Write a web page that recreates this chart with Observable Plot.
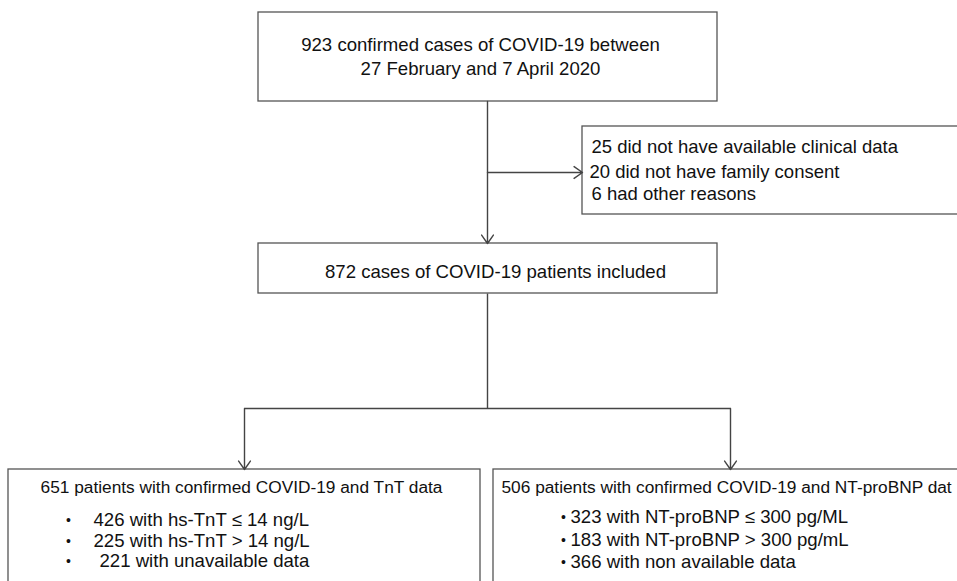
<!DOCTYPE html>
<html>
<head>
<meta charset="utf-8">
<script src="https://cdn.jsdelivr.net/npm/d3@7"></script>
<script src="https://cdn.jsdelivr.net/npm/@observablehq/plot@0.6"></script>
<style>
  html, body { margin: 0; padding: 0; background: #fff; overflow: hidden; }
  #chart svg { display: block; }
</style>
</head>
<body>
<div id="chart"></div>
<script>
const screenedCount = 923;
const screenedPeriod = ["27 February", "7 April 2020"];
const excludedCounts = [25, 20, 6];
const excludedReasons = ["did not have available clinical data", "did not have family consent", "had other reasons"];
const includedCount = 872;
const tntTotal = 651;
const tntCounts = [426, 225, 221];
const tntLabels = ["with hs-TnT \u2264 14 ng/L", "with hs-TnT > 14 ng/L", "with unavailable data"];
const bnpTotal = 506;
const bnpCounts = [323, 183, 366];
const bnpLabels = ["with NT-proBNP \u2264 300 pg/ML", "with NT-proBNP > 300 pg/mL", "with non available data"];

// ---- Layout (pixel frame of the 957 x 581 drawing) ----
const W = 957, H = 581;
const stroke = "#444";
const font = "'Liberation Sans', Arial, Helvetica, sans-serif";

const boxes = [
  {x1: 258, x2: 717, y1: 12, y2: 101},   // screened
  {x1: 582, x2: 990, y1: 126, y2: 214},  // excluded
  {x1: 258, x2: 717, y1: 243, y2: 293},  // included
  {x1: 8, x2: 480, y1: 469, y2: 620},    // TnT
  {x1: 493, x2: 990, y1: 469, y2: 620}   // NT-proBNP
];
const spineX = 487, leftX = 244, rightX = 730, splitY = 408;
const lines = [
  {x1: spineX, y1: 293, x2: spineX, y2: splitY},
  {x1: leftX, y1: splitY, x2: rightX, y2: splitY}
];
const arrows = [
  {x1: spineX, y1: 101, x2: spineX, y2: 243},
  {x1: spineX, y1: 172, x2: 582, y2: 172},
  {x1: leftX, y1: splitY, x2: leftX, y2: 469},
  {x1: rightX, y1: splitY, x2: rightX, y2: 469}
];

const centered = [
  {x: 480, y: 45, t: `${screenedCount} confirmed cases of COVID-19 between`, s: 18.6},
  {x: 480, y: 69, t: `${screenedPeriod[0]} and ${screenedPeriod[1]}`, s: 18.6},
  {x: 495, y: 272, t: `${includedCount} cases of COVID-19 patients included`, s: 18.6},
  {x: 241, y: 487, t: `${tntTotal} patients with confirmed COVID-19 and TnT data`, s: 17.3}
];
const exclY = [147, 172, 194];
const exclX = [591, 589, 591];
const leftTexts = [
  ...excludedCounts.map((c, i) => ({x: exclX[i], y: exclY[i], t: `${c} ${excludedReasons[i]}`, s: 18.5})),
  {x: 501, y: 487, t: `${bnpTotal} patients with confirmed COVID-19 and NT-proBNP dat`, s: 17.3}
];
const tntY = [520, 541, 561];
const tntX = [93, 93, 99];
const bnpY = [517, 540, 562];
const bullets = [
  ...tntCounts.map((c, i) => ({bx: 68, x: tntX[i], y: tntY[i], t: `${c} ${tntLabels[i]}`})),
  ...bnpCounts.map((c, i) => ({bx: 563, x: 570, y: bnpY[i], t: `${c} ${bnpLabels[i]}`}))
];

const chart = Plot.plot({
  width: W,
  height: H,
  margin: 0,
  style: {fontFamily: font, background: "#fff", color: "#111"},
  x: {domain: [0, W], range: [0, W], axis: null},
  y: {domain: [0, H], range: [0, H], axis: null},
  marks: [
    Plot.rect(boxes, {x1: "x1", x2: "x2", y1: "y1", y2: "y2", fill: "#fff", stroke: "#555", strokeWidth: 1.3, clip: true}),
    Plot.link(lines, {x1: "x1", y1: "y1", x2: "x2", y2: "y2", stroke, strokeWidth: 1.4}),
    Plot.arrow(arrows, {x1: "x1", y1: "y1", x2: "x2", y2: "y2", stroke, strokeWidth: 1.4, headLength: 11, headAngle: 70}),
    Plot.text(centered, {x: "x", y: "y", text: "t", fontSize: "s", textAnchor: "middle", fill: "#111"}),
    Plot.text(leftTexts, {x: "x", y: "y", text: "t", fontSize: "s", textAnchor: "start", fill: "#111", clip: true}),
    Plot.text(bullets, {x: "bx", y: "y", text: () => "\u2022", fontSize: 14, textAnchor: "middle", fill: "#111"}),
    Plot.text(bullets, {x: "x", y: "y", text: "t", fontSize: 18.6, textAnchor: "start", fill: "#111"})
  ]
});
document.getElementById("chart").append(chart);
</script>
</body>
</html>
